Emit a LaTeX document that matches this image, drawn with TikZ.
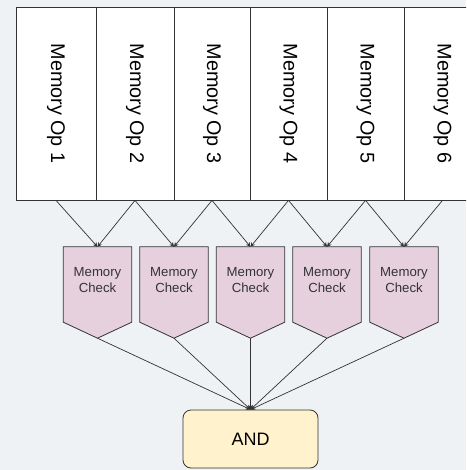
\documentclass[tikz,border=0pt]{standalone}
\usepackage{fontspec}
\setmainfont{Liberation Sans}
\usetikzlibrary{arrows.meta}
\definecolor{bgc}{HTML}{EEF2F5}
\definecolor{checkfill}{HTML}{E6D0DE}
\definecolor{andfill}{HTML}{FFF2CC}
\definecolor{edgec}{HTML}{333333}
\begin{document}
\begin{tikzpicture}[x=1pt,y=-1pt,
  opbox/.style={draw=edgec, line width=0.8pt, fill=white, minimum height=193pt, inner sep=0pt,
    font=\fontsize{19.8}{22}\selectfont},
  checklabel/.style={inner sep=0pt, minimum width=68pt, minimum height=75pt, align=center,
    font=\fontsize{13.2}{16.5}\selectfont, text=black!80},
  checkshape/.style={draw=edgec, line width=0.8pt, fill=checkfill},
  andbox/.style={draw=edgec, line width=0.8pt, fill=andfill, rounded corners=8pt,
    minimum width=135pt, minimum height=58pt, inner sep=0pt, font=\fontsize{18}{20}\selectfont},
  link/.style={draw=edgec, line width=0.7pt, -{Stealth[length=4.5pt,width=4.5pt]}}]
\fill[bgc] (0,0) rectangle (466,470);
\useasboundingbox (0,0) rectangle (466,470);
\clip (0,0) rectangle (466,470);
% memory op columns
\node[opbox, minimum width=80pt] (op1) at (56,103.5) {\rotatebox{-90}{Memory Op 1}};
\node[opbox, minimum width=78pt] (op2) at (135,103.5) {\rotatebox{-90}{Memory Op 2}};
\node[opbox, minimum width=76pt] (op3) at (212,103.5) {\rotatebox{-90}{Memory Op 3}};
\node[opbox, minimum width=77pt] (op4) at (288.5,103.5) {\rotatebox{-90}{Memory Op 4}};
\node[opbox, minimum width=77pt] (op5) at (365.5,103.5) {\rotatebox{-90}{Memory Op 5}};
\node[opbox, minimum width=77pt] (op6) at (442.5,103.5) {\rotatebox{-90}{Memory Op 6}};
% memory checks
\foreach \i/\x in {1/97.5, 2/174, 3/250.5, 4/327, 5/404}{
  \node[checklabel] (chk\i) at (\x,284.5) {};
  \draw[checkshape] (chk\i.north west) -- (chk\i.north east) -- (chk\i.south east)
     -- ([yshift=-16pt]chk\i.south) coordinate (tip\i) -- (chk\i.south west) -- cycle;
  \node[checklabel] at (\x,280) {Memory\\Check};
}
% AND
\node[andbox] (and) at (250.5,439) {AND};
% links ops -> checks
\foreach \i [evaluate=\i as \j using int(\i+1)] in {1,...,5}{
  \draw[link] (op\i.south) -- (chk\i.north);
  \draw[link] (op\j.south) -- (chk\i.north);
}
% links checks -> AND
\foreach \i in {1,...,5}{
  \draw[link] (tip\i) -- (and.north);
}
\end{tikzpicture}
\end{document}
